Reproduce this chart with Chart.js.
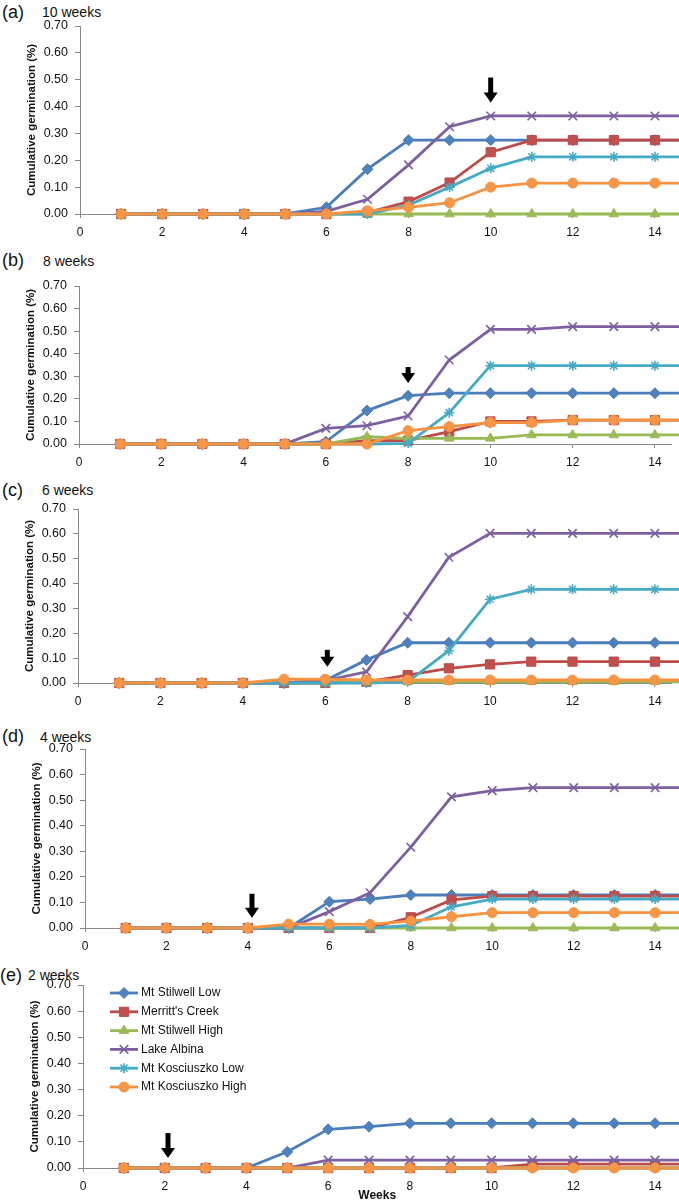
<!DOCTYPE html>
<html>
<head>
<meta charset="utf-8">
<script src="https://cdn.jsdelivr.net/npm/chart.js@4.4.1/dist/chart.umd.min.js"></script>
<style>
  body { margin: 0; background: #fff; width: 679px; height: 1200px; position: relative; overflow: hidden;
         font-family: "Liberation Sans", Arial, sans-serif; color: #111; }
  canvas { position: absolute; left: 0; }
  .tag { position: absolute; font-size: 18px; line-height: 1; white-space: nowrap; }
  .sub { position: absolute; font-size: 14px; line-height: 1; white-space: nowrap; }
</style>
</head>
<body>
<script>
// ---- data ----
const weeks = [1, 2, 3, 4, 5, 6, 7, 8, 9, 10, 11, 12, 13, 14, 15];
const seriesNames = ['Mt Stilwell Low', "Merritt's Creek", 'Mt Stilwell High', 'Lake Albina', 'Mt Kosciuszko Low', 'Mt Kosciuszko High'];
const xTicks = [0, 2, 4, 6, 8, 10, 12, 14];
const yTicks = [0, 0.1, 0.2, 0.3, 0.4, 0.5, 0.6, 0.7];
const panelTags = ['(a)', '(b)', '(c)', '(d)', '(e)'];
const panelTitles = ['10 weeks', '8 weeks', '6 weeks', '4 weeks', '2 weeks'];
const arrowWeeks = [10, 8, 6.05, 4.1, 2.08];
const arrowTips = [0.415, 0.27, 0.065, 0.04, 0.038];

// one row per series, same order as seriesNames
const week10 = [
  [0, 0, 0, 0, 0, 0.025, 0.167, 0.275, 0.275, 0.275, 0.275, 0.275, 0.275, 0.275, 0.275],
  [0, 0, 0, 0, 0, 0, 0.005, 0.046, 0.117, 0.23, 0.275, 0.275, 0.275, 0.275, 0.275],
  [0, 0, 0, 0, 0, 0, 0, 0, 0, 0, 0, 0, 0, 0, 0],
  [0, 0, 0, 0, 0, 0.01, 0.055, 0.183, 0.325, 0.365, 0.365, 0.365, 0.365, 0.365, 0.365],
  [0, 0, 0, 0, 0, 0, 0, 0.033, 0.1, 0.17, 0.213, 0.213, 0.213, 0.213, 0.213],
  [0, 0, 0, 0, 0, 0, 0.012, 0.025, 0.042, 0.1, 0.115, 0.115, 0.115, 0.115, 0.115]
];
const week8 = [
  [0, 0, 0, 0, 0, 0.01, 0.148, 0.214, 0.225, 0.225, 0.225, 0.225, 0.225, 0.225, 0.225],
  [0, 0, 0, 0, 0, 0, 0.015, 0.015, 0.055, 0.1, 0.1, 0.106, 0.106, 0.106, 0.106],
  [0, 0, 0, 0, 0, 0, 0.032, 0.025, 0.025, 0.025, 0.04, 0.04, 0.04, 0.04, 0.04],
  [0, 0, 0, 0, 0, 0.069, 0.081, 0.124, 0.372, 0.508, 0.508, 0.52, 0.52, 0.52, 0.52],
  [0, 0, 0, 0, 0, 0, 0, 0.003, 0.139, 0.347, 0.347, 0.347, 0.347, 0.347, 0.347],
  [0, 0, 0, 0, 0, 0, 0, 0.059, 0.077, 0.095, 0.095, 0.106, 0.106, 0.106, 0.106]
];
const week6 = [
  [0, 0, 0, 0, 0, 0.01, 0.093, 0.162, 0.162, 0.162, 0.162, 0.162, 0.162, 0.162, 0.162],
  [0, 0, 0, 0, 0, 0, 0.005, 0.032, 0.059, 0.075, 0.086, 0.086, 0.086, 0.086, 0.086],
  [0, 0, 0, 0, 0, 0, 0.005, 0.005, 0.005, 0.005, 0.005, 0.005, 0.005, 0.005, 0.005],
  [0, 0, 0, 0, 0, 0.01, 0.045, 0.267, 0.506, 0.602, 0.602, 0.602, 0.602, 0.602, 0.602],
  [0, 0, 0, 0, 0, 0, 0, 0.005, 0.13, 0.337, 0.377, 0.377, 0.377, 0.377, 0.377],
  [0, 0, 0, 0, 0.015, 0.015, 0.012, 0.012, 0.012, 0.012, 0.012, 0.012, 0.012, 0.012, 0.012]
];
const week4 = [
  [0, 0, 0, 0, 0, 0.103, 0.113, 0.129, 0.129, 0.129, 0.129, 0.129, 0.129, 0.129, 0.129],
  [0, 0, 0, 0, 0, 0, 0, 0.042, 0.11, 0.125, 0.125, 0.125, 0.125, 0.125, 0.125],
  [0, 0, 0, 0, 0, 0, 0, 0, 0, 0, 0, 0, 0, 0, 0],
  [0, 0, 0, 0, 0, 0.064, 0.138, 0.316, 0.513, 0.537, 0.549, 0.549, 0.549, 0.549, 0.549],
  [0, 0, 0, 0, 0, 0, 0, 0.01, 0.083, 0.113, 0.113, 0.113, 0.113, 0.113, 0.113],
  [0, 0, 0, 0, 0.015, 0.015, 0.014, 0.027, 0.044, 0.06, 0.06, 0.06, 0.06, 0.06, 0.06]
];
const week2 = [
  [0, 0, 0, 0, 0.062, 0.148, 0.158, 0.171, 0.171, 0.171, 0.171, 0.171, 0.171, 0.171, 0.171],
  [0, 0, 0, 0, 0, 0, 0, 0, 0, 0, 0.015, 0.015, 0.015, 0.015, 0.015],
  [0, 0, 0, 0, 0, 0, 0, 0, 0, 0, 0, 0, 0, 0, 0],
  [0, 0, 0, 0, 0, 0.03, 0.03, 0.03, 0.03, 0.03, 0.03, 0.03, 0.03, 0.03, 0.03],
  [0, 0, 0, 0, 0, 0, 0, 0, 0, 0, 0, 0, 0, 0, 0],
  [0, 0, 0, 0, 0, 0, 0, 0, 0, 0, 0, 0, 0, 0, 0]
];
const panelData = [week10, week8, week6, week4, week2];

// ---- styles / layout ----
const FONT = "'Liberation Sans', Arial, sans-serif";
const AXIS = '#868686';
const lineColors = ['#4A7EBB', '#BE4B48', '#98B954', '#7D60A0', '#46AAC5', '#F69240'];
const fillColors = ['#4F81BD', '#C0504D', '#9BBB59', '#8064A2', '#4BACC6', '#F79646'];
const markers = ['rectRot', 'rect', 'triangle', 'crossRot', 'star', 'circle'];
const markerSizes = [5.5, 6.5, 5.5, 6, 5, 5];
const markerBorders = [1, 1, 1, 1.6, 1.6, 1];

const boxes = [
  { top: 0,   left: 80, areaTop: 26,  areaBottom: 214,  tagX: 2, tagY: 3,   titleX: 42, titleY: 5,   arrowLen: 25 },
  { top: 240, left: 79, areaTop: 286, areaBottom: 444,  tagX: 2, tagY: 251, titleX: 43, titleY: 254, arrowLen: 16 },
  { top: 480, left: 78, areaTop: 509, areaBottom: 683,  tagX: 2, tagY: 481, titleX: 42, titleY: 483, arrowLen: 17 },
  { top: 720, left: 85, areaTop: 749, areaBottom: 928,  tagX: 2, tagY: 727, titleX: 40, titleY: 730, arrowLen: 24 },
  { top: 960, left: 83, areaTop: 985, areaBottom: 1168, tagX: 0, tagY: 966, titleX: 28, titleY: 968, arrowLen: 25 }
];

// black arrow marking the end of the cold period
const arrowPlugin = {
  id: 'arrowMark',
  afterDatasetsDraw(chart, args, opts) {
    const ctx = chart.ctx;
    const x = chart.scales.x.getPixelForValue(opts.week);
    const tip = chart.scales.y.getPixelForValue(opts.tip);
    ctx.save();
    ctx.fillStyle = '#000';
    ctx.fillRect(x - 2.5, tip - opts.len, 5, opts.len - 8);
    ctx.beginPath();
    ctx.moveTo(x - 7, tip - 10);
    ctx.lineTo(x + 7, tip - 10);
    ctx.lineTo(x, tip);
    ctx.closePath();
    ctx.fill();
    ctx.restore();
  }
};

// legend drawn inside the plot area (panel e only)
const legendPlugin = {
  id: 'insideLegend',
  afterDatasetsDraw(chart) {
    const ctx = chart.ctx;
    const a = chart.chartArea;
    chart.data.datasets.forEach((ds, i) => {
      const x = a.left + 27;
      const y = a.top + 8 + i * 18.8;
      ctx.save();
      ctx.strokeStyle = ds.borderColor;
      ctx.lineWidth = ds.borderWidth;
      ctx.beginPath();
      ctx.moveTo(x, y);
      ctx.lineTo(x + 28, y);
      ctx.stroke();
      ctx.fillStyle = ds.pointBackgroundColor;
      ctx.strokeStyle = ds.pointBorderColor;
      ctx.lineWidth = ds.pointBorderWidth;
      Chart.helpers.drawPoint(ctx, { pointStyle: ds.pointStyle, rotation: 0, radius: ds.pointRadius, borderWidth: ds.pointBorderWidth }, x + 14, y);
      ctx.fillStyle = '#111';
      ctx.font = '12px ' + FONT;
      ctx.textBaseline = 'middle';
      ctx.fillText(ds.label, x + 31, y);
      ctx.restore();
    });
  }
};

panelData.forEach((rows, i) => {
  const box = boxes[i];

  const tag = document.createElement('div');
  tag.className = 'tag';
  tag.style.left = box.tagX + 'px';
  tag.style.top = box.tagY + 'px';
  tag.textContent = panelTags[i];
  document.body.appendChild(tag);

  const sub = document.createElement('div');
  sub.className = 'sub';
  sub.style.left = box.titleX + 'px';
  sub.style.top = box.titleY + 'px';
  sub.textContent = panelTitles[i];
  document.body.appendChild(sub);

  const canvas = document.createElement('canvas');
  canvas.width = 679;
  canvas.height = 240;
  canvas.style.top = box.top + 'px';
  document.body.appendChild(canvas);

  const datasets = rows.map((vals, s) => ({
    label: seriesNames[s],
    data: weeks.map((w, k) => ({ x: w, y: vals[k] })),
    borderColor: lineColors[s],
    backgroundColor: fillColors[s],
    pointBackgroundColor: fillColors[s],
    pointBorderColor: lineColors[s],
    pointStyle: markers[s],
    pointRadius: markerSizes[s],
    pointBorderWidth: markerBorders[s],
    borderWidth: 2.8,
    tension: 0,
    clip: false,
    order: rows.length - 1 - s
  }));

  new Chart(canvas, {
    type: 'line',
    data: { datasets },
    plugins: i === 4 ? [arrowPlugin, legendPlugin] : [arrowPlugin],
    options: {
      responsive: false,
      animation: false,
      events: [],
      layout: { padding: { top: box.areaTop - box.top, left: 0, right: 0, bottom: 0 } },
      plugins: {
        legend: { display: false },
        tooltip: { enabled: false },
        arrowMark: { week: arrowWeeks[i], tip: arrowTips[i], len: box.arrowLen }
      },
      scales: {
        x: {
          type: 'linear',
          min: 0,
          max: 14.4,
          afterBuildTicks: scale => { scale.ticks = xTicks.map(v => ({ value: v })); },
          afterFit: scale => { scale.height = box.top + 240 - box.areaBottom; },
          grid: { display: true, drawOnChartArea: false, drawTicks: true, tickLength: 4, color: AXIS },
          border: { display: true, color: AXIS, width: 1 },
          ticks: { autoSkip: false, maxRotation: 0, padding: 7, color: '#111', font: { family: FONT, size: 12 } },
          title: {
            display: i === 4,
            text: 'Weeks',
            color: '#111',
            padding: 0,
            font: { family: FONT, size: 12, weight: 'bold', lineHeight: 0.8 }
          }
        },
        y: {
          min: 0,
          max: 0.7,
          afterBuildTicks: scale => { scale.ticks = yTicks.map(v => ({ value: v })); },
          afterFit: scale => { scale.width = box.left; },
          grid: { display: true, drawOnChartArea: false, drawTicks: true, tickLength: 5, color: AXIS },
          border: { display: true, color: AXIS, width: 1 },
          ticks: {
            padding: 7,
            color: '#111',
            font: { family: FONT, size: 12.5 },
            callback: v => Number(v).toFixed(2)
          },
          title: {
            display: true,
            text: 'Cumulative germination (%)',
            color: '#111',
            padding: { top: box.left - 55, bottom: 0 },
            font: { family: FONT, size: 11.5, weight: 'bold' }
          }
        }
      }
    }
  });
});
</script>
</body>
</html>
